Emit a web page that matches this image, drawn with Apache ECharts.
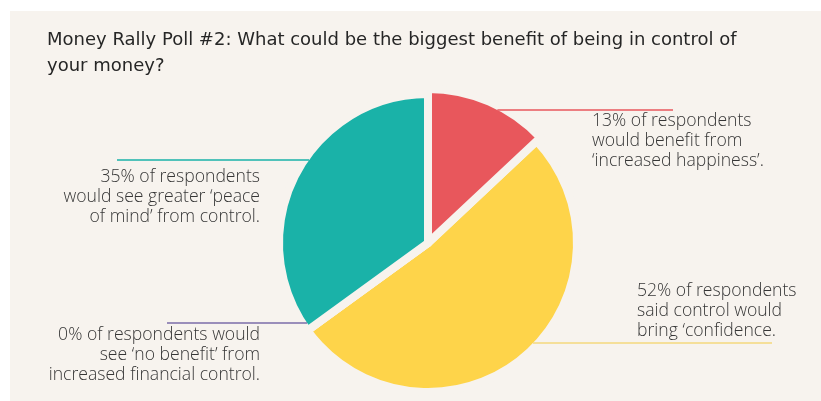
<!DOCTYPE html>
<html><head><meta charset="utf-8">
<script src="https://cdn.jsdelivr.net/npm/echarts@6/dist/echarts.min.js"></script>
<style>html,body{margin:0;padding:0;background:#ffffff}#c{width:821px;height:401px}</style>
</head><body><div id="c"></div>
<script>
// ---- data ----
const titleText = 'Money Rally Poll #2: What could be the biggest benefit of being in control of\nyour money?';
const categories = ['increased happiness', 'confidence', 'no benefit', 'peace of mind'];
const values = [13, 52, 0, 35];
const labelTexts = [
  '13% of respondents\nwould benefit from\n‘increased happiness’.',
  '52% of respondents\nsaid control would\nbring ‘confidence.',
  '0% of respondents would\nsee ‘no benefit’ from\nincreased financial control.',
  '35% of respondents\nwould see greater ‘peace\nof mind’ from control.'
];
const sliceColors = ['#e8575c', '#fed44a', '#7b6ca8', '#1ab2a8'];
const lineColors = ['#e8575c', '#f5d87c', '#7b6ca8', '#1ab2a8'];

// ---- layout ----
const BG = '#f7f3ee';
const CX = 428, CY = 243, R = 149, BORDER = 8;
const R_BIG = 154; // highlighted (first) slice radius
const visR = [R_BIG - BORDER / 2, R - BORDER / 2, R - BORDER / 2, R - BORDER / 2];
const lineY = [110, 343, 323, 160];
const lineFarX = [673, 772, 167, 117];
const textX = [592, 637, 260, 260];
const textY = [111, 281, 325, 167];
const textAlign = ['left', 'left', 'right', 'right'];

function edgeX(i) {
  const dy = lineY[i] - CY;
  const r = visR[i];
  const dx = Math.sqrt(Math.max(0, r * r - dy * dy));
  return lineFarX[i] > CX ? CX + dx : CX - dx;
}

const slicesData = categories.map((c, i) => ({
  name: c, value: values[i], itemStyle: { color: sliceColors[i] }
}));
const bigData = categories.map((c, i) => ({
  name: c, value: values[i],
  itemStyle: i === 0 ? { color: sliceColors[i], borderColor: BG, borderWidth: BORDER }
                     : { color: 'rgba(0,0,0,0)', borderWidth: 0 }
}));
const labelData = categories.map((c, i) => ({
  name: c, value: values[i],
  label: { formatter: labelTexts[i] },
  labelLine: { lineStyle: { color: lineColors[i] } }
}));

const chart = echarts.init(document.getElementById('c'), null, { renderer: 'canvas' });
chart.setOption({
  backgroundColor: '#ffffff',
  animation: false,
  graphic: [{
    type: 'rect', z: -10, silent: true,
    shape: { x: 10, y: 11, width: 811, height: 390 },
    style: { fill: BG }
  }],
  title: {
    text: titleText, left: 47, top: 27, padding: 0,
    textStyle: { fontFamily: 'DejaVu Sans', fontSize: 18, fontWeight: 'normal', color: '#262626', lineHeight: 26 }
  },
  series: [{
    type: 'pie', z: 2, silent: true,
    center: [CX, CY], radius: R,
    startAngle: 90, clockwise: true,
    itemStyle: { borderColor: BG, borderWidth: BORDER },
    label: { show: false }, labelLine: { show: false },
    emphasis: { disabled: true },
    data: slicesData
  }, {
    type: 'pie', z: 3, silent: true,
    center: [CX, CY], radius: R_BIG,
    startAngle: 90, clockwise: true,
    label: { show: false }, labelLine: { show: false },
    emphasis: { disabled: true },
    data: bigData
  }, {
    type: 'pie', z: 4, silent: true,
    center: [CX, CY], radius: R,
    startAngle: 90, clockwise: true,
    avoidLabelOverlap: false,
    itemStyle: { color: 'rgba(0,0,0,0)', borderWidth: 0 },
    label: {
      show: true, position: 'outside',
      fontFamily: 'Open Sans', fontSize: 17.6, fontWeight: 300, color: '#363636', lineHeight: 20
    },
    labelLine: { show: true, lineStyle: { width: 1.5 } },
    emphasis: { disabled: true },
    labelLayout: function (p) {
      const i = p.dataIndex;
      const ex = edgeX(i);
      const fx = lineFarX[i];
      return {
        x: textX[i], y: textY[i], align: textAlign[i], verticalAlign: 'top',
        labelLinePoints: [[ex, lineY[i]], [(ex + fx) / 2, lineY[i]], [fx, lineY[i]]]
      };
    },
    data: labelData
  }]
});
</script>
</body></html>
